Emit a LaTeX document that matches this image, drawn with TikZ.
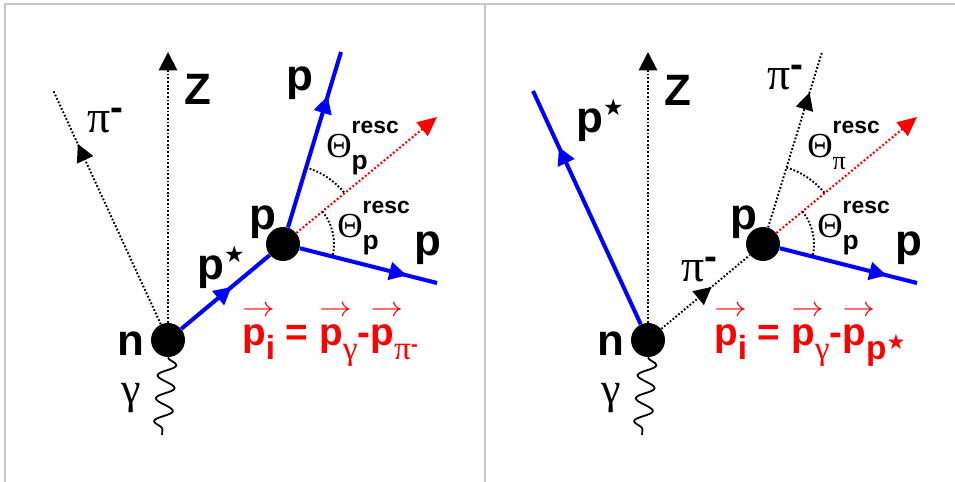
\documentclass[tikz,border=0pt]{standalone}
\usepackage{fontspec}
\usepackage{graphicx}
\setmainfont{Liberation Sans}
\newfontfamily\grk{Liberation Serif}
\newfontfamily\sym{DejaVu Sans}
\usetikzlibrary{arrows.meta,decorations.markings,decorations.pathmorphing}

\newcommand{\gk}[1]{{\grk\mdseries #1}}
\newcommand{\piminus}{\gk{\fontsize{26}{26}\selectfont π}\raisebox{7pt}{\fontsize{22}{22}\selectfont -}}
\newcommand{\pstar}{p\raisebox{10pt}{\sym\mdseries\fontsize{13}{13}\selectfont ★}}
\newcommand{\vecp}{\rlap{\raisebox{16pt}{\mdseries\fontsize{10}{10}\selectfont\scalebox{1.85}[1.6]{$\rightarrow$}}}p}
\newcommand{\lowtxt}[1]{\raisebox{-8.5pt}{\fontsize{19}{19}\selectfont #1}}
\newcommand{\thlabel}[2]{\gk{#1}\rlap{\raisebox{14.2pt}{\fontsize{13}{13}\selectfont resc}}\raisebox{-6.8pt}{\fontsize{15}{15}\selectfont #2}}

\tikzset{
  dot/.style={circle,fill=black,minimum size=0.68cm,inner sep=0pt},
  lab/.style={font=\fontsize{25}{25}\selectfont\bfseries,inner sep=0pt,anchor=base west},
  thlab/.style={lab,font=\fontsize{20}{20}\selectfont\bfseries},
  formula/.style={lab,text=red,font=\fontsize{22}{22}\selectfont\bfseries},
  track/.style={blue,line width=2.3pt},
  dotline/.style={line width=1.1pt,dash pattern=on 1pt off 1.1pt},
  reddot/.style={red,line width=1.2pt,dash pattern=on 1.1pt off 1.2pt},
  midarrow/.style={postaction={decorate},decoration={markings,
    mark=at position #1 with {\arrow{Triangle[length=10pt,width=10pt]}}}},
  photon/.style={decorate,decoration={snake,segment length=0.46cm,amplitude=0.18cm},line width=1pt},
  frame/.style={gray!45,line width=0.6pt}
}

\begin{document}
\begin{tikzpicture}[x=0.02cm,y=0.02cm]
\useasboundingbox (0,0) rectangle (955,-482);
\draw[frame] (5,-482) -- (5,-4) -- (955,-4);
\draw[frame] (485,-4) -- (485,-482);

% left: pi- from n, p* rescatters on p
\node[dot] (n1) at (168,-340) {};
\node[dot] (p1) at (283,-244) {};
\coordinate (z1) at (168,-52);
\coordinate (pi1) at (53,-90);
\coordinate (pu1) at (341,-52);
\coordinate (pr1) at (437,-283);
\coordinate (r1) at (437,-117);
\coordinate (g1) at (162,-435);

\draw[dotline,-{Triangle[length=10.5pt,width=10.5pt]}] (n1) -- (z1);
\draw[dotline,midarrow=0.77] (n1) -- (pi1);
\draw[track,midarrow=0.57] (n1) -- (p1);
\draw[track,midarrow=0.75] (p1) -- (pu1);
\draw[track,midarrow=0.78] (p1) -- (pr1);
\draw[reddot,-{Triangle[length=11pt,width=10pt]}] (p1) -- (r1);
\draw[photon] (n1.south) -- (g1);
\draw[dotline] (p1.center) ++(73.2:80) arc (73.2:39.5:80);
\draw[dotline] (p1.center) ++(39.5:51) arc (39.5:-14.2:51);

\node[lab] (zl1) at (184,-105) {Z};
\node[lab] (pil1) at (87,-133) {\piminus};
\node[lab] (psl1) at (197,-280) {\pstar};
\node[lab] (pl1) at (249,-230) {p};
\node[lab] (pul1) at (286,-91) {p};
\node[lab] (prl1) at (414,-256) {p};
\node[lab] (nl1) at (117,-356) {n};
\node[lab] (gl1) at (121,-403) {\gk{γ}};
\node[thlab] (thu1) at (326,-158) {\thlabel{Θ}{p}};
\node[thlab] (thl1) at (337,-238) {\thlabel{Θ}{p}};
\node[formula] (f1) at (242,-345) {\vecp\lowtxt{i} = \vecp\lowtxt{\gk{γ}}-\vecp\lowtxt{\gk{π}\raisebox{5pt}{\fontsize{12}{12}\selectfont -}}};

% right: p* from n, pi- rescatters on p
\node[dot] (n2) at (648,-340) {};
\node[dot] (p2) at (763,-244) {};
\coordinate (z2) at (648,-52);
\coordinate (ps2) at (533,-91);
\coordinate (pu2) at (822,-52);
\coordinate (pr2) at (917,-283);
\coordinate (r2) at (917,-117);
\coordinate (g2) at (642,-435);

\draw[dotline,-{Triangle[length=10.5pt,width=10.5pt]}] (n2) -- (z2);
\draw[track,midarrow=0.76] (n2) -- (ps2);
\draw[dotline,midarrow=0.57] (n2) -- (p2);
\draw[dotline,midarrow=0.77] (p2) -- (pu2);
\draw[track,midarrow=0.78] (p2) -- (pr2);
\draw[reddot,-{Triangle[length=11pt,width=10pt]}] (p2) -- (r2);
\draw[photon] (n2.south) -- (g2);
\draw[dotline] (p2.center) ++(72.9:80) arc (72.9:39.5:80);
\draw[dotline] (p2.center) ++(39.5:51) arc (39.5:-14.2:51);

\node[lab] (zl2) at (664,-106) {Z};
\node[lab] (psl2) at (576,-133) {\pstar};
\node[lab] (pul2) at (767,-90) {\piminus};
\node[lab] (pil2) at (681,-282) {\piminus};
\node[lab] (pl2) at (730,-230) {p};
\node[lab] (prl2) at (895,-256) {p};
\node[lab] (nl2) at (597,-356) {n};
\node[lab] (gl2) at (601,-403) {\gk{γ}};
\node[thlab] (thu2) at (807,-158) {\thlabel{Θ}{\gk{π}}};
\node[thlab] (thl2) at (817,-238) {\thlabel{Θ}{p}};
\node[formula] (f2) at (714,-345) {\vecp\lowtxt{i} = \vecp\lowtxt{\gk{γ}}-\vecp\lowtxt{p\raisebox{6pt}{\sym\mdseries\fontsize{12}{12}\selectfont ★}}};
\end{tikzpicture}
\end{document}
